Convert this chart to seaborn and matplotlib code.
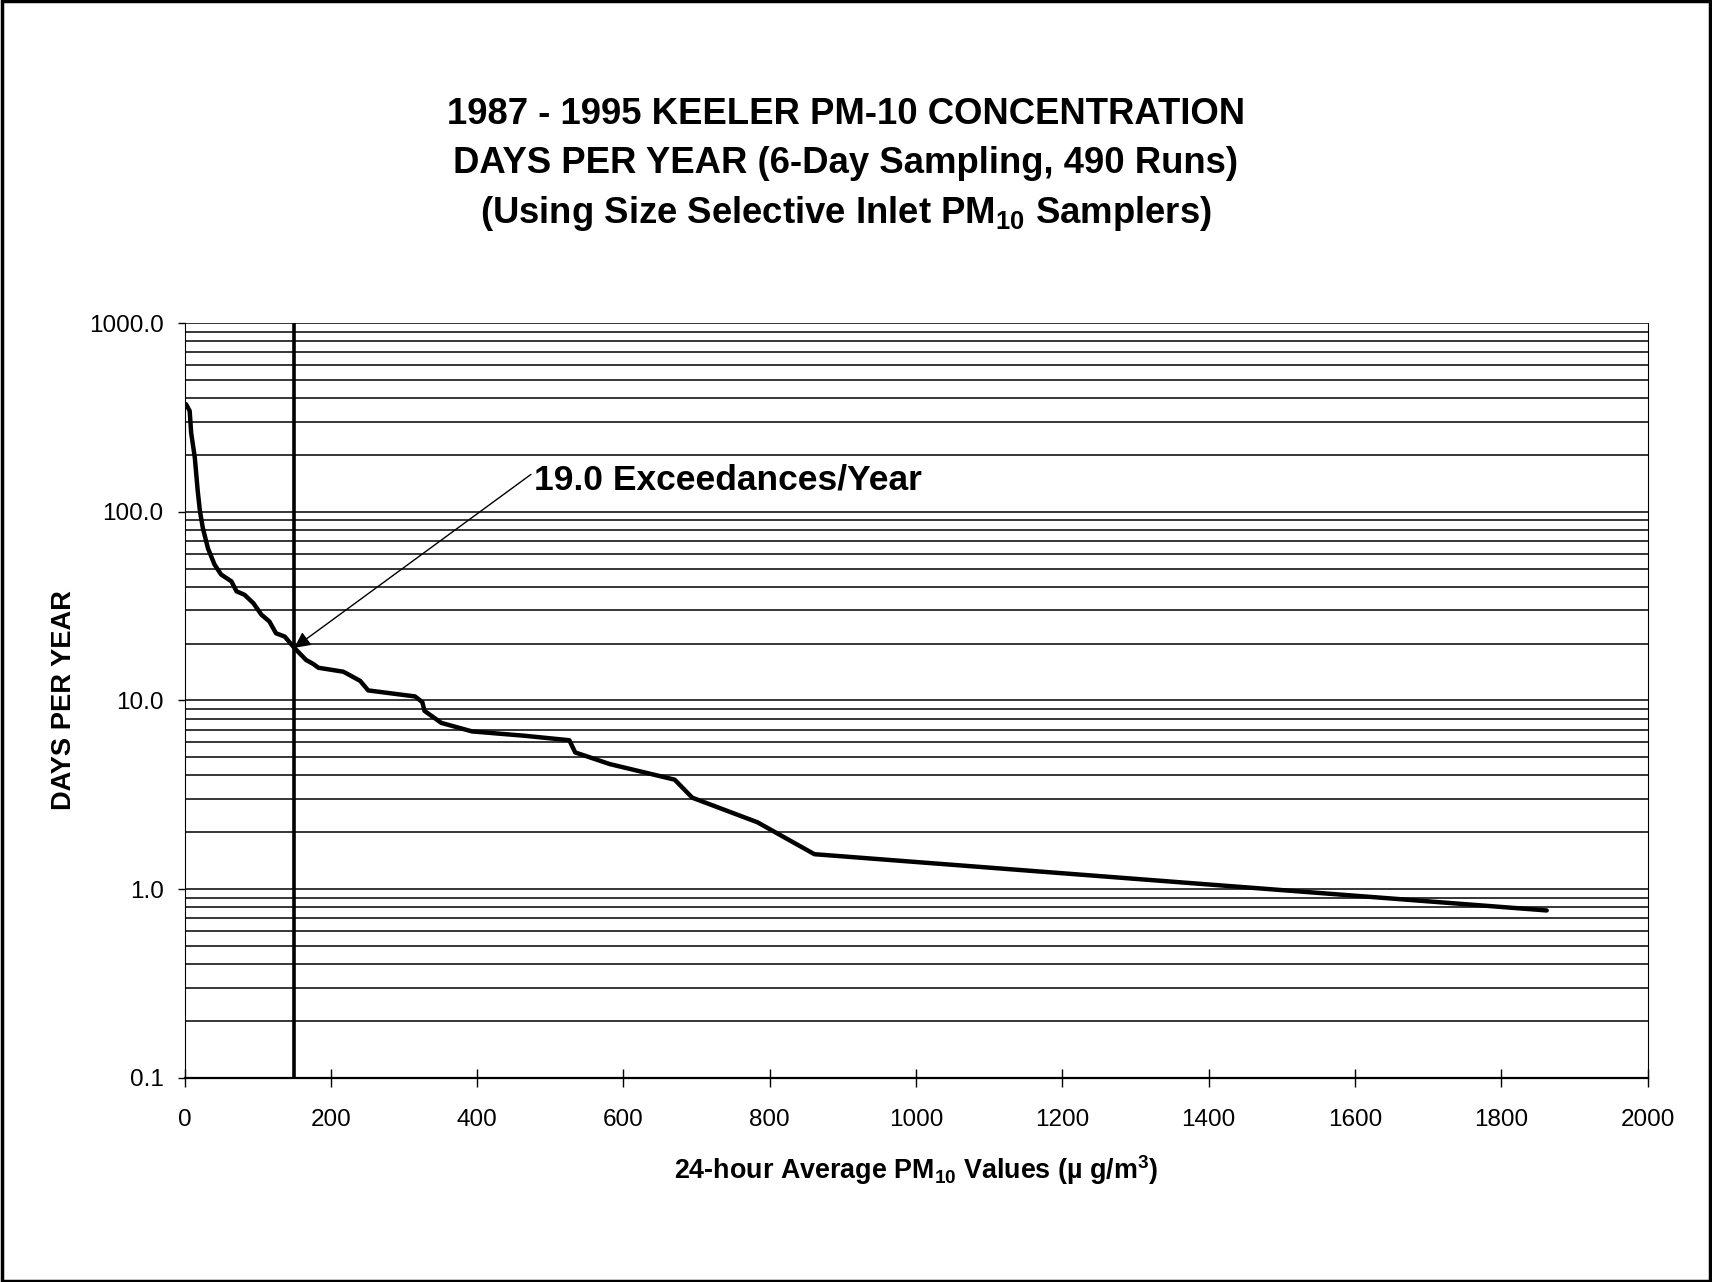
import matplotlib
matplotlib.use("Agg")
import matplotlib.pyplot as plt
import seaborn as sns
from matplotlib.patches import Rectangle

# Data
pm10_values = [2, 7, 9, 14, 18, 21, 25, 32, 41, 50,
               64, 71, 82, 94, 105, 116, 125, 137, 150, 166,
               176, 183, 217, 226, 240, 251, 315, 325, 328, 351,
               393, 464, 526, 534, 581, 670, 694, 783, 861, 1862]
days_per_year = [372, 343, 263, 194, 129, 101, 82, 64, 52.5, 46.5,
                 42.8, 37.9, 36.3, 32.8, 28.5, 26.2, 22.7, 21.8, 19.0, 16.4,
                 15.6, 14.9, 14.2, 13.6, 12.7, 11.3, 10.5, 9.8, 8.8, 7.6,
                 6.85, 6.5, 6.15, 5.3, 4.6, 3.8, 3.05, 2.26, 1.53, 0.77]
standard_pm10 = 150
exceedances = 19.0
x_ticks = [0, 200, 400, 600, 800, 1000, 1200, 1400, 1600, 1800, 2000]
y_ticks = [0.1, 1, 10, 100, 1000]
y_tick_labels = ["0.1", "1.0", "10.0", "100.0", "1000.0"]

sns.set_theme(style="white")
plt.rcParams['font.family'] = ['Liberation Sans', 'DejaVu Sans']
plt.rcParams['mathtext.fontset'] = 'custom'
plt.rcParams['mathtext.rm'] = 'Liberation Sans:bold'
plt.rcParams['mathtext.bf'] = 'Liberation Sans:bold'
plt.rcParams['mathtext.it'] = 'Liberation Sans:italic'
# seaborn greys -> plain black like the original
for key in ['text.color', 'axes.labelcolor', 'xtick.color', 'ytick.color', 'axes.edgecolor']:
    plt.rcParams[key] = 'black'

fig = plt.figure(figsize=(17.12, 12.82), dpi=100)
ax = fig.add_axes([0.1078, 0.1594, 0.8546, 0.5885])

sns.lineplot(x=pm10_values, y=days_per_year, ax=ax, color='black',
             linewidth=3.2, sort=False, estimator=None)
ax.axvline(standard_pm10, color='black', linewidth=2.6, zorder=3)

ax.set_yscale('log')
ax.set_xlim(0, 2000)
ax.set_ylim(0.1, 1000)
ax.set_xticks(x_ticks)
ax.set_xticklabels([str(t) for t in x_ticks])
ax.set_yticks(y_ticks)
ax.set_yticklabels(y_tick_labels)

# horizontal grid on every major and minor decade step
ax.grid(True, which='both', axis='y', color='black', linewidth=1.1)
ax.grid(False, axis='x')
ax.tick_params(axis='y', which='minor', length=0)
ax.tick_params(axis='y', which='major', direction='out', length=5, width=1,
               color='black', labelcolor='black', labelsize=17.5, pad=10, left=True)
ax.tick_params(axis='x', direction='inout', length=12.5, width=1,
               color='black', labelcolor='black', labelsize=17.5, pad=16, bottom=True)

for side in ['left', 'right']:
    ax.spines[side].set_color('black')
    ax.spines[side].set_linewidth(0.8)
ax.spines['top'].set_visible(False)
ax.spines['bottom'].set_color('black')
ax.spines['bottom'].set_linewidth(1.6)

ax.set_xlabel(r"24-hour Average PM$_{\mathbf{10}}$ Values (µ g/m$^{\mathbf{3}}$)",
              fontsize=19.4, fontweight='bold', color='black')
ax.xaxis.set_label_coords(0.5, -0.100)
ax.set_ylabel("DAYS PER YEAR", fontsize=19.6, fontweight='bold', color='black')
ax.yaxis.set_label_coords(-0.0737, 0.5)

ax.annotate(f"{exceedances:.1f} Exceedances/Year",
            xy=(standard_pm10, exceedances), xytext=(478, 147), textcoords='data',
            fontsize=25.5, fontweight='bold', ha='left', va='center', color='black',
            arrowprops=dict(arrowstyle='-|>', color='black', lw=1.0,
                            mutation_scale=24, shrinkA=0, shrinkB=0,
                            relpos=(0, 0.75)))

# Title
title_lines = ["1987 - 1995 KEELER PM-10 CONCENTRATION",
               "DAYS PER YEAR (6-Day Sampling, 490 Runs)",
               r"(Using Size Selective Inlet PM$_{\mathbf{10}}$ Samplers)"]
for line, y in zip(title_lines, [0.9030, 0.8648, 0.8258]):
    fig.text(0.494, y, line, ha='center', va='baseline', fontsize=26.3,
             fontweight='bold', color='black')

# frame round the whole chart
fig.patches.append(Rectangle((0.001, 0.001), 0.998, 0.998, transform=fig.transFigure,
                             fill=False, edgecolor='black', linewidth=2.5))

plt.savefig('out.png', dpi=100)
